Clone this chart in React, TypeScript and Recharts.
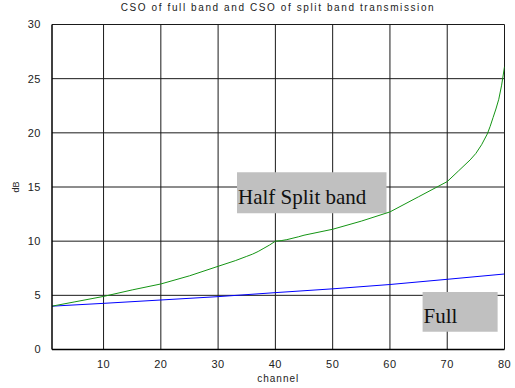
import React from 'react';
import {
  LineChart,
  Line,
  XAxis,
  YAxis,
  CartesianGrid,
  ReferenceArea,
} from 'recharts';

// CSO (dB) per channel
const fullChannels = [1, 10, 20, 30, 40, 50, 60, 70, 80];
const fullCso = [4.0, 4.26, 4.57, 4.88, 5.25, 5.6, 6.0, 6.48, 6.97];

const splitChannels = [1, 5, 10, 15, 20, 25, 30, 33, 35, 36, 37, 38, 39, 40, 41, 42, 44, 45, 50, 55, 60, 65, 70, 72, 74, 75, 76, 77, 77.5, 78, 78.5, 79, 79.5, 80];
const splitCso = [4.0, 4.4, 4.9, 5.5, 6.05, 6.8, 7.68, 8.2, 8.6, 8.8, 9.05, 9.35, 9.65, 10.0, 10.05, 10.14, 10.4, 10.55, 11.1, 11.85, 12.7, 14.1, 15.5, 16.5, 17.5, 18.1, 18.9, 19.9, 20.6, 21.4, 22.2, 23.1, 24.4, 26.1];

const xTicks = [10, 20, 30, 40, 50, 60, 70, 80];
const yTicks = [0, 5, 10, 15, 20, 25, 30];

const fullData = fullChannels.map((ch, i) => ({ ch, v: fullCso[i] }));
const splitData = splitChannels.map((ch, i) => ({ ch, v: splitCso[i] }));

const sans = 'Arial, "Liberation Sans", sans-serif';
const tickStyle = { fontFamily: sans, fontSize: 11, fill: '#222', letterSpacing: 0.5 };

const boxLabel = (text: string) => (props: any) => {
  const { x, y, height } = props.viewBox;
  return (
    <text
      x={x + 1}
      y={y + height - 9}
      fontFamily='"Liberation Serif", "Times New Roman", serif'
      fontSize={21}
      fill="#111"
    >
      {text}
    </text>
  );
};

export default function App() {
  return (
    <div style={{ position: 'absolute', left: 0, top: 0, width: 515, height: 388, background: '#fff' }}>
      <div
        style={{
          position: 'absolute',
          left: 52,
          width: 452,
          top: 2,
          textAlign: 'center',
          fontFamily: sans,
          fontSize: 10,
          letterSpacing: 1.6,
          color: '#222',
        }}
      >
        CSO of full band and CSO of split band transmission
      </div>
      <LineChart
        width={515}
        height={388}
        margin={{ top: 24.5, right: 10.5, left: 0, bottom: 0 }}
      >
        <CartesianGrid
          stroke="#1a1a1a"
          strokeWidth={1}
          horizontalValues={[5, 10, 15, 20, 25, 30]}
          verticalValues={[10, 20, 30, 40, 50, 60, 70, 80]}
        />
        <XAxis
          type="number"
          dataKey="ch"
          domain={[1, 80]}
          ticks={xTicks}
          allowDataOverflow
          height={38.5}
          tickLine={false}
          axisLine={{ stroke: '#000', strokeWidth: 1.5 }}
          tick={tickStyle}
          tickMargin={5}
          label={{
            value: 'channel',
            position: 'insideBottom',
            offset: 6,
            style: { fontFamily: sans, fontSize: 10, letterSpacing: 1, fill: '#222' },
          }}
        />
        <YAxis
          type="number"
          domain={[0, 30]}
          ticks={yTicks}
          allowDataOverflow
          width={52}
          tickLine={false}
          axisLine={{ stroke: '#000', strokeWidth: 1.5 }}
          tick={tickStyle}
          tickMargin={5}
          label={{
            value: 'dB',
            angle: -90,
            position: 'insideLeft',
            offset: 16,
            style: { fontFamily: sans, fontSize: 9, fill: '#222', textAnchor: 'middle' },
          }}
        />
        <Line
          data={fullData}
          dataKey="v"
          type="linear"
          stroke="#0000ff"
          strokeWidth={1}
          dot={false}
          isAnimationActive={false}
        />
        <Line
          data={splitData}
          dataKey="v"
          type="linear"
          stroke="#149414"
          strokeWidth={1}
          dot={false}
          isAnimationActive={false}
        />
        <ReferenceArea
          x1={33.3}
          x2={59.4}
          y1={12.57}
          y2={16.36}
          fill="#c0c0c0"
          fillOpacity={1}
          stroke="none"
          label={boxLabel('Half Split band')}
        />
        <ReferenceArea
          x1={65.7}
          x2={78.8}
          y1={1.64}
          y2={5.31}
          fill="#c0c0c0"
          fillOpacity={1}
          stroke="none"
          label={boxLabel('Full')}
        />
      </LineChart>
    </div>
  );
}
